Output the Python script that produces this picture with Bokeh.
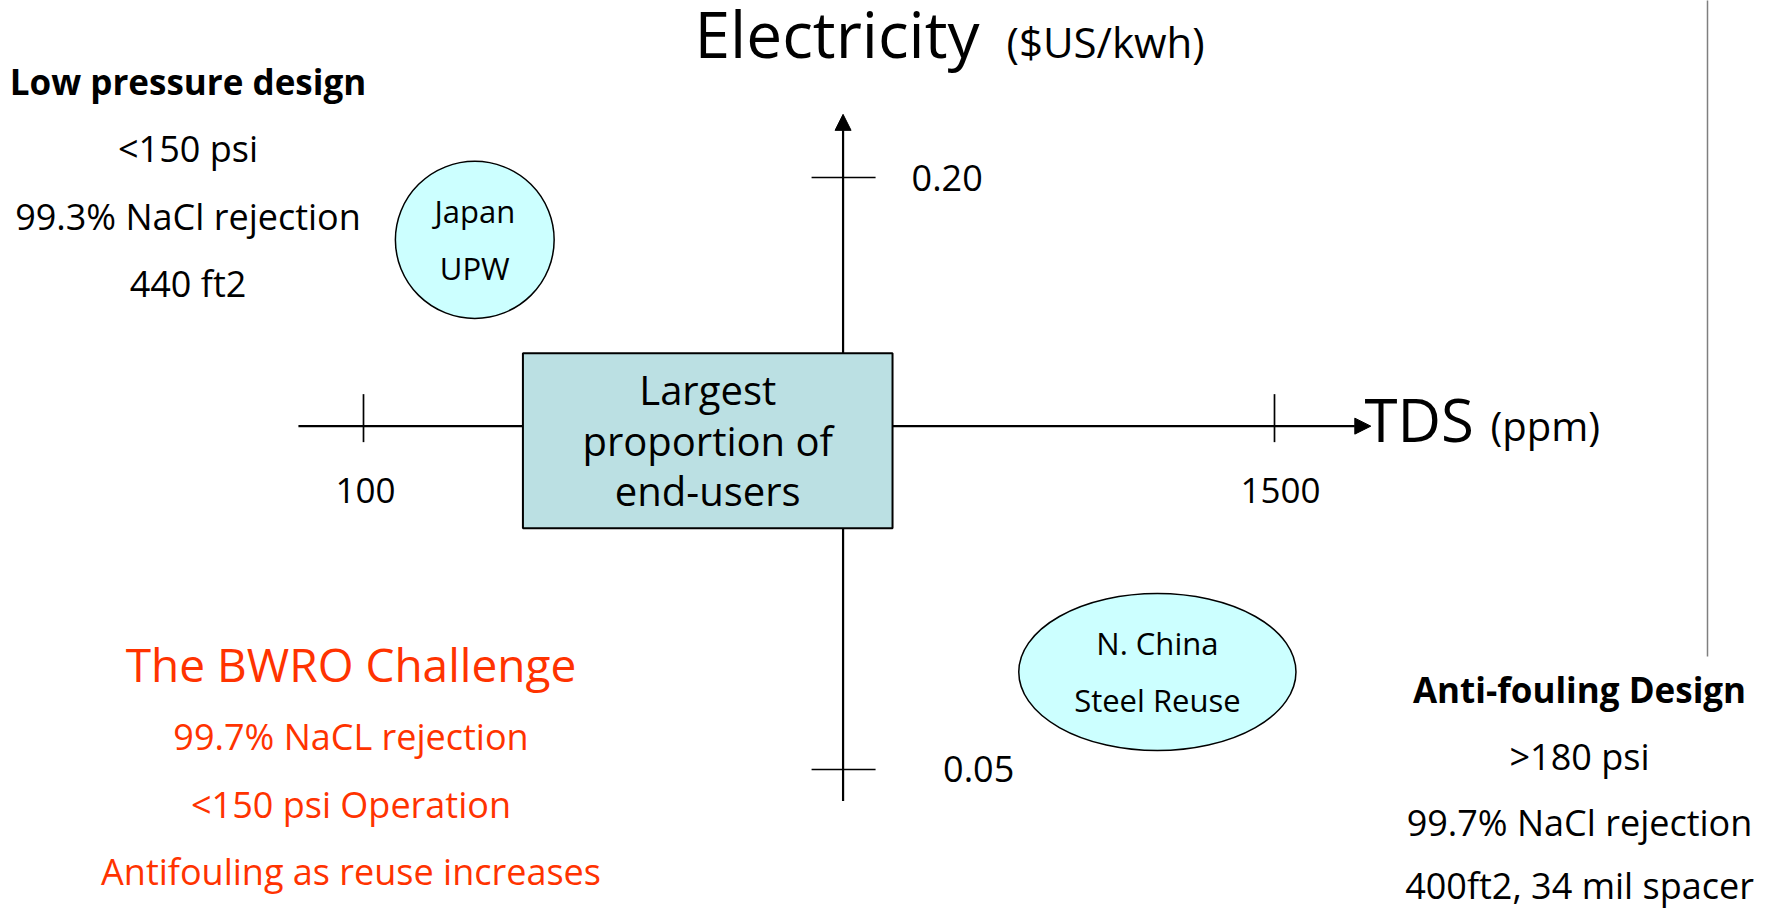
from bokeh.plotting import figure
from bokeh.models import Range1d, Arrow, NormalHead
from bokeh.core.properties import value
from bokeh.embed import file_html
from bokeh.resources import INLINE

# ---------------- data ----------------
tds_ticks = [100, 1500]
tds_tick_labels = ["100", "1500"]
elec_ticks = [0.20, 0.05]
elec_tick_labels = ["0.20", "0.05"]
tds_axis = [0, 1648]          # ppm, horizontal axis extent
elec_axis = [0.042, 0.216]    # $US/kwh, vertical axis extent
tds_cross = 837               # where the vertical axis crosses
elec_cross = 0.137            # where the horizontal axis crosses
x_title = ["TDS", "(ppm)"]
y_title = ["Electricity", "($US/kwh)"]

market_names = [["Japan", "UPW"], ["N. China", "Steel Reuse"]]
market_tds = [271, 1320]
market_elec = [0.1842, 0.0747]
market_tds_span = [244, 426]
market_elec_span = [0.0398, 0.0398]

core_tds = [345, 913]
core_elec = [0.1111, 0.1555]
core_lines = ["Largest", "proportion of", "end-users"]

low_pressure_lines = ["Low pressure design", "<150 psi", "99.3% NaCl rejection", "440 ft2"]
antifouling_lines = ["Anti-fouling Design", ">180 psi", "99.7% NaCl rejection", "400ft2, 34 mil spacer"]
challenge_lines = ["The BWRO Challenge", "99.7% NaCL rejection", "<150 psi Operation",
                   "Antifouling as reuse increases"]

# ---------------- layout (page pixels) ----------------
W, H = 1775, 911
# calibration: tick 100 -> px 363, tick 1500 -> px 1274; 0.20 -> py 177, 0.05 -> py 769
SX = (1274 - 363) / (tds_ticks[1] - tds_ticks[0])
SY = (769 - 177) / (elec_ticks[0] - elec_ticks[1])
X0 = tds_ticks[0] - 363 / SX
Y1 = elec_ticks[0] + 177 / SY
K = 0.4  # baseline correction factor (fraction of font size)

def fx(px):
    return X0 + px / SX

def fy(py):
    return Y1 - py / SY

def dx(px):
    return px / SX

def dy(py):
    return py / SY

def ty(baseline, size):
    return fy(baseline - K * size)

FONT = value("Open Sans")

p = figure(width=W, height=H, output_backend="svg", toolbar_location=None,
           x_range=Range1d(fx(0), fx(W)), y_range=Range1d(fy(H), fy(0)),
           x_axis_type=None, y_axis_type=None, min_border=0,
           min_border_left=0, min_border_right=0, min_border_top=0, min_border_bottom=0)
p.grid.visible = False
p.outline_line_color = None
p.background_fill_color = "white"
p.border_fill_color = "white"

# gray divider line at right
p.segment(x0=[fx(1707)], y0=[fy(-5)], x1=[fx(1707)], y1=[fy(656)],
          line_color="#7f7f7f", line_width=1.5)

# axes with arrow heads (drawn beneath the glyphs)
p.add_layout(Arrow(end=NormalHead(size=16, fill_color="black", line_color="black", line_width=1),
                   x_start=tds_axis[0], y_start=elec_cross, x_end=tds_axis[1], y_end=elec_cross,
                   line_color="black", line_width=2.2, level="underlay"))
p.add_layout(Arrow(end=NormalHead(size=16, fill_color="black", line_color="black", line_width=1),
                   x_start=tds_cross, y_start=elec_axis[0], x_end=tds_cross, y_end=elec_axis[1],
                   line_color="black", line_width=2.2, level="underlay"))

# tick marks
p.segment(x0=tds_ticks, y0=[elec_cross + dy(32)] * 2, x1=tds_ticks, y1=[elec_cross - dy(16)] * 2,
          line_color="black", line_width=1.7)
p.segment(x0=[tds_cross - dx(31.5)] * 2, y0=elec_ticks, x1=[tds_cross + dx(32.5)] * 2, y1=elec_ticks,
          line_color="black", line_width=1.7)

# tick labels
p.text(x=tds_ticks, y=[elec_cross - dy(78 - K * 35)] * 2, text=tds_tick_labels, x_offset=[2, 6],
       text_font=FONT, text_font_size="35px", text_align="center", text_baseline="alphabetic",
       text_color="black")
p.text(x=[tds_cross + dx(68.5), tds_cross + dx(100)], y=elec_ticks, text=elec_tick_labels,
       y_offset=[15 - K * 36, 14 - K * 36],
       text_font=FONT, text_font_size="36px", text_align="left", text_baseline="alphabetic",
       text_color="black")

# axis titles
p.text(x=[fx(694)], y=[ty(59, 64)], text=[y_title[0]], text_font=FONT, text_font_size="64px",
       text_align="left", text_baseline="alphabetic", text_color="black")
p.text(x=[fx(1006)], y=[ty(58, 42)], text=[y_title[1]], text_font=FONT, text_font_size="42px",
       text_align="left", text_baseline="alphabetic", text_color="black")
p.text(x=[fx(1364)], y=[ty(442, 60)], text=[x_title[0]], text_font=FONT, text_font_size="60px",
       text_align="left", text_baseline="alphabetic", text_color="black")
p.text(x=[fx(1490)], y=[ty(441, 40)], text=[x_title[1]], text_font=FONT, text_font_size="40px",
       text_align="left", text_baseline="alphabetic", text_color="black")

# core box
p.quad(left=[core_tds[0]], right=[core_tds[1]], bottom=[core_elec[0]], top=[core_elec[1]],
       fill_color="#bbe0e3", line_color="black", line_width=2)
core_cx = (core_tds[0] + core_tds[1]) / 2
p.text(x=[core_cx] * 3, y=[ty(405, 40), ty(456, 40), ty(506, 40)], text=core_lines, text_font=FONT,
       text_font_size="40px", text_align="center", text_baseline="alphabetic", text_color="black")

# market bubbles
p.ellipse(x=market_tds, y=market_elec, width=market_tds_span, height=market_elec_span,
          fill_color="#ccffff", line_color="black", line_width=1.5)
for i, names in enumerate(market_names):
    p.text(x=[market_tds[i]] * 2,
           y=[market_elec[i] + dy(16.5 + K * 31), market_elec[i] - dy(40.5 - K * 31)],
           text=names, text_font=FONT, text_font_size="31px", text_align="center",
           text_baseline="alphabetic", text_color="black")

# left panel
left_cx = fx(187.5)
base = [95, 162, 230, 297]
p.text(x=[left_cx], y=[ty(base[0], 35)], text=[low_pressure_lines[0]], text_font=FONT,
       text_font_size="35px", text_font_style="bold", text_align="center",
       text_baseline="alphabetic", text_color="black")
p.text(x=[left_cx] * 3, y=[ty(b, 36) for b in base[1:]], text=low_pressure_lines[1:], text_font=FONT,
       text_font_size="36px", text_align="center", text_baseline="alphabetic", text_color="black")

# right panel
right_cx = fx(1579)
base_r = [703, 770, 836, 899]
p.text(x=[right_cx], y=[ty(base_r[0], 35)], text=[antifouling_lines[0]], text_font=FONT,
       text_font_size="35px", text_font_style="bold", text_align="center",
       text_baseline="alphabetic", text_color="black")
p.text(x=[right_cx] * 3, y=[ty(b, 36) for b in base_r[1:]], text=antifouling_lines[1:], text_font=FONT,
       text_font_size="36px", text_align="center", text_baseline="alphabetic", text_color="black")

# BWRO challenge
red = "#ff3300"
ch_cx = fx(350.5)
p.text(x=[ch_cx], y=[ty(682, 46)], text=[challenge_lines[0]], text_font=FONT,
       text_font_size="46px", text_align="center", text_baseline="alphabetic", text_color=red)
p.text(x=[ch_cx] * 3, y=[ty(b, 36) for b in (750, 818, 885)], text=challenge_lines[1:], text_font=FONT,
       text_font_size="36px", text_align="center", text_baseline="alphabetic", text_color=red)

open("out.html", "w").write(file_html(p, INLINE))
